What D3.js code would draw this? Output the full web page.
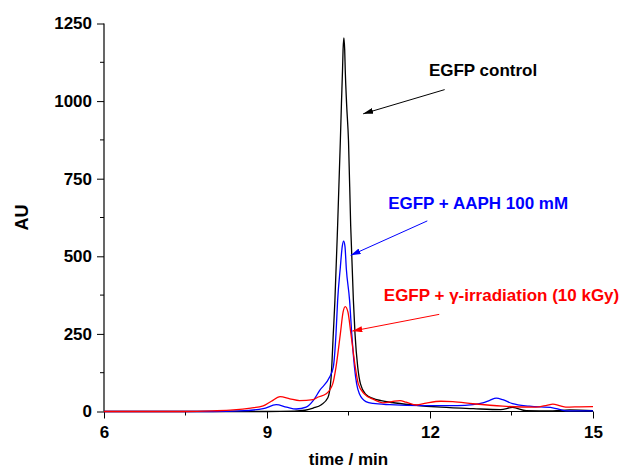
<!DOCTYPE html>
<html>
<head>
<meta charset="utf-8">
<script src="https://cdn.jsdelivr.net/npm/d3@7"></script>
<style>
  body { margin: 0; background: #fff; }
  text { font-family: "Liberation Sans", Arial, sans-serif; font-weight: bold; }
</style>
</head>
<body>
<div id="chart"></div>
<script>
    // chromatogram traces, [time (min), AU]
    var controlData = [[6,0],[8,0],[9,0],[9.5,1],[9.7,4],[9.85,11],[10.0,22],[10.12,44],[10.18,110],
      [10.22,250],[10.25,358],[10.3,600],[10.35,872],[10.37,991],[10.39,1100],[10.40,1165],[10.415,1204],
      [10.43,1165],[10.44,1100],[10.465,991],[10.5,872],[10.54,600],[10.59,358],[10.62,250],[10.67,143],
      [10.72,89],[10.82,55],[10.95,42],[11.1,35],[11.3,29],[11.7,21],[12.2,14],[12.8,9],[13.3,6],
      [13.52,13],[13.77,3],[14.26,2],[14.57,5],[15,3]];

    var aaphData = [[6,0],[8,0],[8.5,2],[8.93,9],[9.17,22],[9.36,14],[9.54,8],[9.72,14],[9.85,35],
      [9.97,68],[10.15,110],[10.22,143],[10.27,250],[10.30,358],[10.35,465],[10.385,532],[10.41,549],
      [10.435,532],[10.46,460],[10.52,358],[10.56,250],[10.61,143],[10.65,89],[10.70,57],[10.82,32],
      [10.95,26],[11.26,22],[11.87,19],[12.5,19],[12.79,22],[12.97,28],[13.1,36],[13.22,43],[13.34,38],
      [13.52,25],[13.83,17],[14.26,12],[14.4,6],[14.5,2],[15,2]];

    var gammaData = [[6,0],[7.5,0],[8,2],[8.38,5],[8.7,11],[8.93,18],[9.08,33],[9.24,48],[9.42,41],
      [9.6,35],[9.85,38],[9.93,46],[10.09,57],[10.21,89],[10.27,143],[10.35,250],[10.40,320],[10.44,338],
      [10.49,320],[10.545,250],[10.625,143],[10.68,89],[10.79,57],[10.97,38],[11.13,28],[11.3,32],
      [11.45,35],[11.56,30],[11.75,21],[11.93,27],[12.2,33],[12.42,32],[12.79,25],[13.34,17],[13.95,14],
      [14.15,20],[14.26,24],[14.4,18],[14.5,14],[14.75,15],[15,16]];

    var xTicks = [6, 9, 12, 15];
    var xMinor = [7.5, 10.5, 13.5];
    var yTicks = [0, 250, 500, 750, 1000, 1250];
    var yMinor = [125, 375, 625, 875, 1125];

    // label text, anchor [time, AU], arrow [from, to]
    var notes = [
      {text: "EGFP control", color: "#000000", at: [11.98, 1081], arrow: [[12.27, 1037], [10.77, 959]]},
      {text: "EGFP + AAPH 100 mM", color: "#0000ff", at: [11.23, 651], arrow: [[11.95, 614], [10.54, 503]]},
      {text: "EGFP + \u03b3-irradiation (10 kGy)", color: "#ff0000", at: [11.15, 357], arrow: [[12.17, 313], [10.57, 259]]}
    ];

    var width = 620, height = 468;
    var margin = {top: 23.5, right: 27, bottom: 56.5, left: 104};

    var svg = d3.select("#chart").append("svg")
        .attr("width", width)
        .attr("height", height);

    var x = d3.scaleLinear().domain([6, 15]).range([margin.left, width - margin.right]);
    var y = d3.scaleLinear().domain([0, 1250]).range([height - margin.bottom, margin.top]);

    // arrow heads
    var defs = svg.append("defs");
    notes.forEach(function(n, i) {
      defs.append("marker")
          .attr("id", "head" + i)
          .attr("viewBox", "0 0 10 6")
          .attr("refX", 10).attr("refY", 3)
          .attr("markerWidth", 10).attr("markerHeight", 6)
          .attr("markerUnits", "userSpaceOnUse")
          .attr("orient", "auto")
        .append("path")
          .attr("d", "M0,0 L10,3 L0,6 Z")
          .attr("fill", n.color);
    });

    // axes
    var xAxis = svg.append("g")
        .attr("transform", "translate(0," + y(0) + ")")
        .call(d3.axisBottom(x).tickValues(xTicks).tickSize(7).tickPadding(7).tickFormat(d3.format("d")));
    xAxis.append("g").selectAll("line").data(xMinor).enter().append("line")
        .attr("x1", function(d) { return x(d); }).attr("x2", function(d) { return x(d); })
        .attr("y1", 0).attr("y2", 4).attr("stroke", "#000");

    var yAxis = svg.append("g")
        .attr("transform", "translate(" + x(6) + ",0)")
        .call(d3.axisLeft(y).tickValues(yTicks).tickSize(7).tickPadding(5).tickFormat(d3.format("d")));
    yAxis.append("g").selectAll("line").data(yMinor).enter().append("line")
        .attr("y1", function(d) { return y(d); }).attr("y2", function(d) { return y(d); })
        .attr("x1", 0).attr("x2", -4).attr("stroke", "#000");

    svg.selectAll(".domain").attr("stroke", "#000").attr("stroke-width", 1.2);
    svg.selectAll(".tick text")
        .attr("font-size", 17)
        .attr("font-weight", "bold")
        .attr("fill", "#000")
        .style("font-family", "'Liberation Sans', Arial, sans-serif");
    xAxis.selectAll(".domain").attr("d", "M" + x(6) + ",0H" + x(15));
    yAxis.selectAll(".domain").attr("d", "M0," + y(0) + "V" + y(1250));

    // axis titles
    svg.append("text")
        .attr("x", (x(6) + x(15)) / 2)
        .attr("y", 465)
        .attr("text-anchor", "middle")
        .attr("font-size", 17)
        .text("time / min");

    svg.append("text")
        .attr("transform", "translate(28," + y(625) + ") rotate(-90)")
        .attr("text-anchor", "middle")
        .attr("font-size", 18)
        .text("AU");

    // traces
    var line = d3.line()
        .x(function(d) { return x(d[0]); })
        .y(function(d) { return y(d[1]); })
        .curve(d3.curveMonotoneX);

    [[controlData, "#000000"], [aaphData, "#0000ff"], [gammaData, "#ff0000"]].forEach(function(s) {
      svg.append("path")
          .datum(s[0])
          .attr("d", line)
          .attr("fill", "none")
          .attr("stroke", s[1])
          .attr("stroke-width", 1.3);
    });

    // annotations
    notes.forEach(function(n, i) {
      svg.append("line")
          .attr("x1", x(n.arrow[0][0])).attr("y1", y(n.arrow[0][1]))
          .attr("x2", x(n.arrow[1][0])).attr("y2", y(n.arrow[1][1]))
          .attr("stroke", n.color)
          .attr("stroke-width", 1)
          .attr("marker-end", "url(#head" + i + ")");
      svg.append("text")
          .attr("x", x(n.at[0]))
          .attr("y", y(n.at[1]))
          .attr("font-size", 17)
          .attr("fill", n.color)
          .text(n.text);
    });
</script>
</body>
</html>
